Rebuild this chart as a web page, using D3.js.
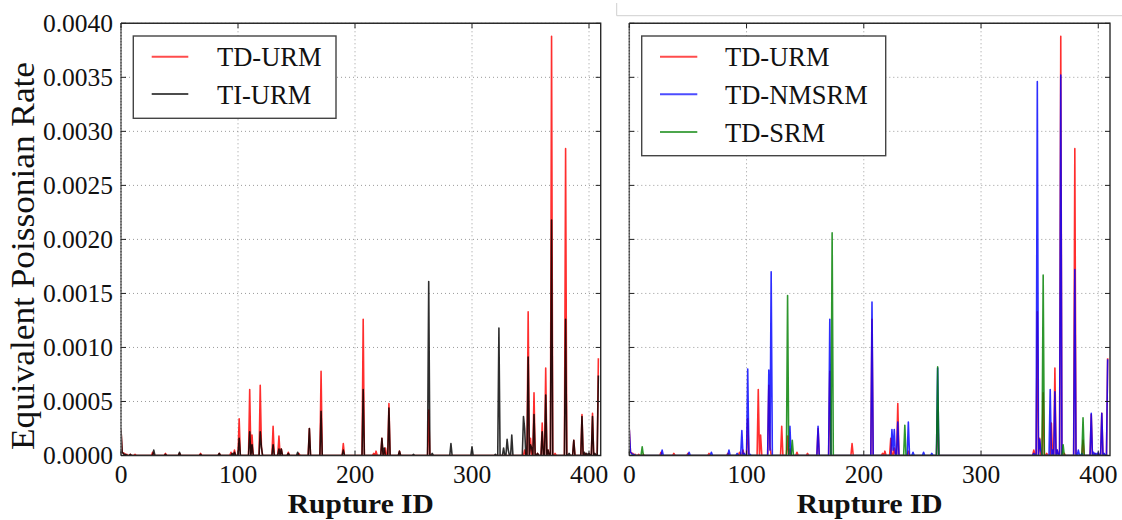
<!DOCTYPE html>
<html>
<head>
<meta charset="utf-8">
<script src="https://cdn.jsdelivr.net/npm/d3@7/dist/d3.min.js"></script>
<style>
  html, body { margin: 0; padding: 0; background: #fff; }
  svg { display: block; }
  text { font-family: "Liberation Serif", "Times New Roman", serif; fill: #111; }
</style>
</head>
<body>
<svg id="chart" width="1122" height="520"></svg>
<script>
// ---------------- DATA ----------------
const ruptureCount = 409;               // rupture IDs 0 .. 408
const xTicks = [0, 100, 200, 300, 400];
const yTicks = [0, 0.0005, 0.0010, 0.0015, 0.0020, 0.0025, 0.0030, 0.0035, 0.0040];
const yTickLabels = ["0.0000","0.0005","0.0010","0.0015","0.0020","0.0025","0.0030","0.0035","0.0040"];
const seriesNames = ["TD-URM", "TI-URM", "TD-NMSRM", "TD-SRM"];

// sparse [ruptureID, rate] pairs; IDs not listed sit at ~0
const tdUrm = [
  [0,0.00024],[1,0.00003],[2,0.00002],[3,0.00002],[5,0.00001],[8,0.00001],[12,0.00001],
  [27,0.00003],[38,0.00002],[50,0.00002],[68,0.00002],[84,0.00002],[94,0.00003],[97,0.00005],
  [101,0.00034],[110,0.00061],[112,0.00019],[119,0.00065],[120,0.00008],[130,0.00027],
  [135,0.00018],[137,0.00006],[143,0.00003],[152,0.00002],[161,0.00025],[171,0.00078],
  [190,0.00011],[207,0.00126],[216,0.00002],[218,0.00004],[223,0.00016],[226,0.00007],
  [229,0.00048],[238,0.00004],[263,0.00042],[345,0.00005],[348,0.00133],[350,0.00016],
  [353,0.00058],[356,0.00002],[360,0.00030],[363,0.00081],[365,0.00005],[368,0.00388],
  [371,0.00002],[380,0.00284],[387,0.00014],[394,0.00038],[397,0.00002],[400,0.00002],
  [403,0.00039],[405,0.00001],[408,0.00090]
];
const tiUrm = [
  [0,0.00024],[1,0.00003],[2,0.00002],[4,0.00001],[8,0.00001],[28,0.00005],[38,0.00001],
  [50,0.00003],[68,0.00001],[84,0.00002],[95,0.00002],[97,0.00003],[101,0.00016],
  [110,0.00022],[112,0.00010],[119,0.00022],[120,0.00008],[130,0.00010],[135,0.00006],
  [137,0.00006],[143,0.00002],[151,0.00003],[161,0.00025],[171,0.00041],[190,0.00005],
  [207,0.00061],[223,0.00016],[225,0.00007],[229,0.00044],[238,0.00004],[250,0.00001],
  [263,0.00161],[266,0.00002],[282,0.00011],[300,0.00008],[320,0.00001],[323,0.00118],
  [327,0.00007],[330,0.00015],[331,0.00005],[334,0.00019],[344,0.00036],[345,0.00025],
  [348,0.00091],[350,0.00010],[351,0.00007],[353,0.00038],[356,0.00002],[360,0.00022],
  [363,0.00056],[365,0.00005],[368,0.00218],[380,0.00126],[383,0.00002],[387,0.00014],
  [394,0.00036],[396,0.00003],[398,0.00002],[400,0.00002],[403,0.00036],[405,0.00002],
  [408,0.00074]
];
const tdNmsrm = [
  [0,0.00024],[1,0.00003],[2,0.00002],[4,0.00001],[28,0.00005],[51,0.00003],[70,0.00003],
  [85,0.00005],[92,0.00002],[96,0.00023],[98,0.00002],[101,0.00080],[103,0.00001],
  [119,0.00079],[120,0.00005],[121,0.00170],[137,0.00027],[161,0.00027],[171,0.00126],
  [207,0.00142],[224,0.00024],[225,0.00005],[226,0.00024],[229,0.00031],[238,0.00031],
  [242,0.00003],[251,0.00003],[258,0.00002],[263,0.00081],[345,0.00002],[348,0.00346],
  [350,0.00015],[351,0.00005],[359,0.00061],[361,0.00005],[363,0.00059],[365,0.00005],
  [368,0.00352],[380,0.00172],[383,0.00005],[386,0.00002],[394,0.00039],[396,0.00003],
  [398,0.00002],[400,0.00003],[403,0.00039],[405,0.00002],[408,0.00089]
];
const tdSrm = [
  [11,0.00008],[135,0.00148],[139,0.00014],[173,0.00206],[235,0.00028],[263,0.00082],
  [353,0.00167],[370,0.00010],[387,0.00035]
];

// ---------------- helpers ----------------
function expand(pairs) {
  const m = new Map(pairs);
  return d3.range(ruptureCount).map(id => ({ id, v: m.has(id) ? m.get(id) : 0 }));
}

const svg = d3.select("#chart");
const yTop = 23.3, yBottom = 455.5;
const y = d3.scaleLinear().domain([0, 0.0040]).range([yBottom, yTop]);

// faint frame artefact at top right
svg.append("path").attr("d", "M616.7,3V15.7H1122").attr("fill", "none")
  .attr("stroke", "#cfcfcf").attr("stroke-width", 1);

function drawPanel(opts) {
  const x = d3.scaleLinear().domain([0, 410]).range([opts.x0, opts.x1]);
  const g = svg.append("g");
  const clipId = "clip" + opts.id;
  svg.append("clipPath").attr("id", clipId).append("rect")
    .attr("x", opts.x0).attr("y", yTop - 2).attr("width", opts.x1 - opts.x0).attr("height", yBottom - yTop + 2);

  // grid
  const grid = g.append("g").attr("stroke", "#9a9a9a").attr("stroke-width", 1)
    .attr("stroke-dasharray", "1,3").attr("fill", "none");
  xTicks.forEach(t => grid.append("line").attr("x1", x(t)).attr("x2", x(t)).attr("y1", yTop).attr("y2", yBottom));
  yTicks.forEach(t => grid.append("line").attr("x1", opts.x0).attr("x2", opts.x1).attr("y1", y(t)).attr("y2", y(t)));

  // data lines
  const line = d3.line().x(d => x(d.id)).y(d => y(d.v));
  const lg = g.append("g").attr("clip-path", `url(#${clipId})`);
  opts.series.forEach(s => {
    lg.append("path").datum(expand(s.data)).attr("d", line)
      .attr("fill", "none").attr("stroke", s.color).attr("stroke-width", 1.6)
      .attr("stroke-opacity", 0.82).attr("stroke-linejoin", "round");
  });

  // spines
  g.append("line").attr("x1", opts.x0).attr("x2", opts.x0).attr("y1", yTop).attr("y2", yBottom)
    .attr("stroke", "#777").attr("stroke-width", 1.5);
  g.append("line").attr("x1", opts.x0).attr("x2", opts.x0).attr("y1", yTop).attr("y2", yBottom)
    .attr("stroke", "#333").attr("stroke-width", 1.2).attr("stroke-dasharray", "1,2");
  g.append("path").attr("d", `M${opts.x0},${yTop}H${opts.x1}V${yBottom}H${opts.x0}`)
    .attr("fill", "none").attr("stroke", "#2a2a2a").attr("stroke-width", 1.4);

  // inward ticks
  const tk = g.append("g").attr("stroke", "#222").attr("stroke-width", 1);
  yTicks.forEach(t => {
    tk.append("line").attr("x1", opts.x0).attr("x2", opts.x0 + 5).attr("y1", y(t)).attr("y2", y(t));
    tk.append("line").attr("x1", opts.x1).attr("x2", opts.x1 - 5).attr("y1", y(t)).attr("y2", y(t));
  });
  xTicks.forEach(t => {
    tk.append("line").attr("x1", x(t)).attr("x2", x(t)).attr("y1", yBottom).attr("y2", yBottom - 5);
    tk.append("line").attr("x1", x(t)).attr("x2", x(t)).attr("y1", yTop).attr("y2", yTop + 5);
  });

  // x tick labels
  xTicks.forEach(t => {
    g.append("text").attr("x", x(t)).attr("y", 482.5).attr("text-anchor", "middle")
      .attr("font-size", 25.5).text(String(t));
  });
  // y tick labels
  if (opts.yLabels) {
    yTicks.forEach((t, i) => {
      g.append("text").attr("x", opts.x0 - 8).attr("y", y(t)).attr("dy", "0.34em")
        .attr("text-anchor", "end").attr("font-size", 25.5).text(yTickLabels[i]);
    });
  }
  // x axis title
  g.append("text").attr("x", (opts.x0 + opts.x1) / 2).attr("y", 513).attr("text-anchor", "middle")
    .attr("font-size", 28).attr("font-weight", "bold").attr("textLength", 146)
    .attr("lengthAdjust", "spacingAndGlyphs").text("Rupture ID");

  // legend
  const L = opts.legend;
  const leg = g.append("g");
  leg.append("rect").attr("x", L.x).attr("y", L.y).attr("width", L.w).attr("height", L.h)
    .attr("fill", "#fff").attr("stroke", "#444").attr("stroke-width", 1.4);
  opts.series.forEach((s, i) => {
    const ly = L.rowY[i];
    leg.append("line").attr("x1", L.hx0).attr("x2", L.hx1).attr("y1", ly).attr("y2", ly)
      .attr("stroke", s.color).attr("stroke-width", 2).attr("stroke-opacity", 0.7);
    leg.append("text").attr("x", L.tx).attr("y", ly + 9.5).attr("font-size", 26.5).text(s.name);
  });
}

drawPanel({
  id: "L", x0: 121, x1: 600.7, yLabels: true,
  series: [
    { name: seriesNames[0], data: tdUrm, color: "#ff0000" },
    { name: seriesNames[1], data: tiUrm, color: "#000000" }
  ],
  legend: { x: 133.3, y: 36, w: 202.7, h: 82.3, hx0: 151.7, hx1: 188.3, tx: 217, rowY: [56.7, 94] }
});

drawPanel({
  id: "R", x0: 629.3, x1: 1110, yLabels: false,
  series: [
    { name: seriesNames[0], data: tdUrm, color: "#ff0000" },
    { name: seriesNames[2], data: tdNmsrm, color: "#0000ff" },
    { name: seriesNames[3], data: tdSrm, color: "#008000" }
  ],
  legend: { x: 641.7, y: 36, w: 244, h: 119.7, hx0: 660, hx1: 697.3, tx: 725, rowY: [56.7, 94.3, 132] }
});

// y axis title
svg.append("text").attr("transform", "translate(34,256) rotate(-90)")
  .attr("text-anchor", "middle").attr("font-size", 33).attr("textLength", 388)
  .attr("lengthAdjust", "spacingAndGlyphs").text("Equivalent Poissonian Rate");
</script>
</body>
</html>
